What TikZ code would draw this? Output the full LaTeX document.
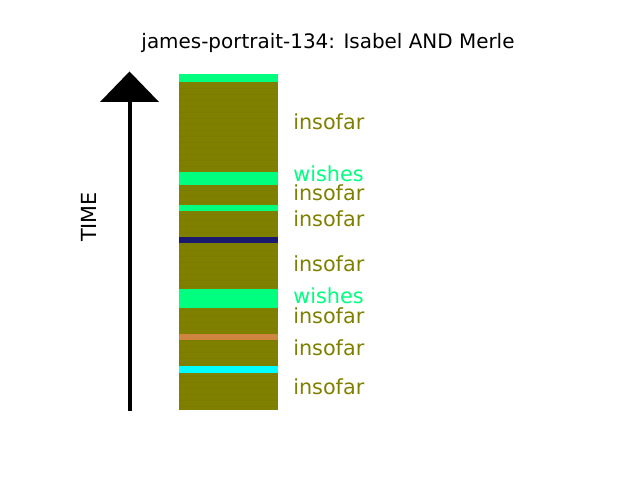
\documentclass[tikz,border=0pt]{standalone}
\usepackage{fontspec}
\setmainfont{DejaVu Sans}
\definecolor{olivec}{HTML}{808000}
\definecolor{springc}{HTML}{00FF7F}
\definecolor{navyc}{HTML}{191970}
\definecolor{peruc}{HTML}{CD853F}
\definecolor{cyanc}{HTML}{00FFFF}
\begin{document}
\begin{tikzpicture}[x=0.01in,y=-0.01in,
  seg/.style={draw=none},
  lab/.style={anchor=west,inner sep=0pt,font=\fontsize{15}{18}\selectfont},
]
\useasboundingbox (0,0) rectangle (640,480);
% title
\node[font=\fontsize{14.4}{17}\selectfont] (title) at (328,43) {james-portrait-134: Isabel AND Merle};
% bar
\fill[olivec] (179,74) rectangle (278,410);
\foreach \y in {88,94,...,406} {\draw[olivec!92!black,line width=0.3pt,opacity=0.35] (179,\y) -- (278,\y);}
\fill[springc] (179,74) rectangle (278,82);
\fill[springc] (179,172) rectangle (278,185);
\fill[springc] (179,205) rectangle (278,211);
\fill[navyc] (179,237) rectangle (278,243);
\fill[springc] (179,289) rectangle (278,308);
\fill[peruc] (179,334) rectangle (278,340);
\fill[cyanc] (179,366) rectangle (278,373);
% arrow
\coordinate (tail) at (129.5,411);
\coordinate (headbase) at (129.5,101);
\draw[line width=0.04in] (tail) -- (headbase);
\fill (100,102) -- (159,102) -- (129.5,71.5) -- cycle;
\node[rotate=90,font=\fontsize{15}{18}\selectfont] (time) at (89,217) {TIME};
% labels
\node[lab,text=olivec] (l1) at (293,122) {insofar};
\node[lab,text=springc] (l2) at (293,174) {wishes};
\node[lab,text=olivec] (l3) at (293,193) {insofar};
\node[lab,text=olivec] (l4) at (293,219) {insofar};
\node[lab,text=olivec] (l5) at (293,264) {insofar};
\node[lab,text=springc] (l6) at (293,296) {wishes};
\node[lab,text=olivec] (l7) at (293,316) {insofar};
\node[lab,text=olivec] (l8) at (293,348) {insofar};
\node[lab,text=olivec] (l9) at (293,387) {insofar};
\end{tikzpicture}
\end{document}
